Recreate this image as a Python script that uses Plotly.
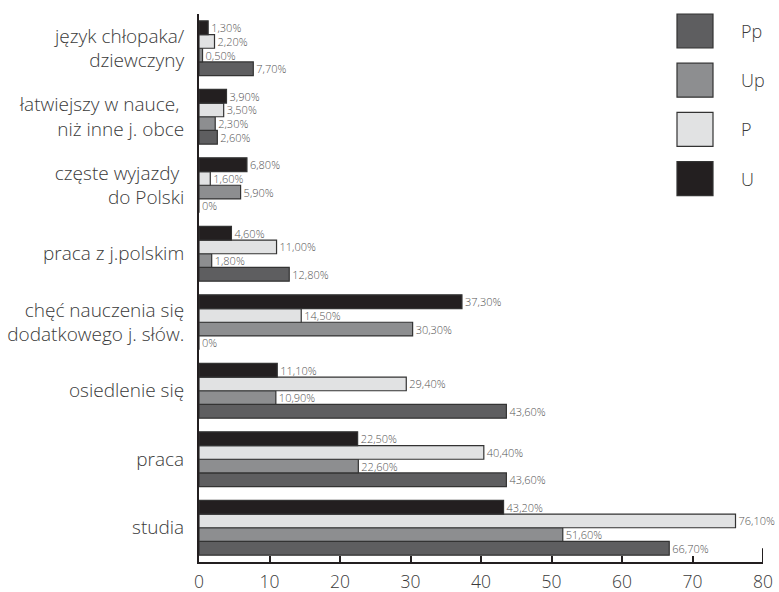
import plotly.graph_objects as go

# Reasons (bottom to top on the category axis)
categories = [
    "studia",
    "praca",
    "osiedlenie się",
    "chęć nauczenia się<br>dodatkowego j. słów.",
    "praca z j.polskim",
    "częste wyjazdy <br>do Polski",
    "łatwiejszy w nauce, <br>niż inne j. obce",
    "język chłopaka/<br>dziewczyny",
]

# Percent of answers per group
pp_values = [66.7, 43.6, 43.6, 0.0, 12.8, 0.0, 2.6, 7.7]
up_values = [51.6, 22.6, 10.9, 30.3, 1.8, 5.9, 2.3, 0.5]
p_values = [76.1, 40.4, 29.4, 14.5, 11.0, 1.6, 3.5, 2.2]
u_values = [43.2, 22.5, 11.1, 37.3, 4.6, 6.8, 3.9, 1.3]

series_names = ["Pp", "Up", "P", "U"]
series_values = [pp_values, up_values, p_values, u_values]
series_colors = ["#5e5e60", "#8d8e90", "#e1e2e3", "#231f20"]

x_ticks = [0, 10, 20, 30, 40, 50, 60, 70, 80]

FONT = "Open Sans"
TEXT = "#3a3a3a"


def pct_label(v):
    if v == 0:
        return "0%"
    return f"{v:.2f}%".replace(".", ",")


fig = go.Figure()
for name, vals, col in zip(series_names, series_values, series_colors):
    fig.add_trace(
        go.Bar(
            name=name,
            y=categories,
            x=vals,
            orientation="h",
            marker=dict(color=col, line=dict(color="#333333", width=1.2)),
            text=[pct_label(v) for v in vals],
            textposition="outside",
            constraintext="none",
            textfont=dict(family=FONT, size=11, color="#555555", weight=300),
            cliponaxis=False,
            showlegend=False,
        )
    )

fig.update_layout(
    width=779,
    height=592,
    margin=dict(l=199, r=16, t=14, b=30),
    paper_bgcolor="white",
    plot_bgcolor="white",
    barmode="group",
    bargap=0.2,
    bargroupgap=0,
    font=dict(family=FONT, color=TEXT),
)

fig.update_xaxes(
    range=[0, 80],
    tickvals=x_ticks,
    ticktext=[str(t) for t in x_ticks],
    showgrid=False,
    zeroline=False,
    showline=True,
    linecolor="#231f20",
    linewidth=2,
    ticks="inside",
    ticklen=6,
    tickwidth=2,
    tickcolor="#231f20",
    tickfont=dict(family=FONT, size=17.5, color=TEXT, weight=300),
    ticklabelstandoff=3,
    automargin=False,
)

fig.update_yaxes(
    categoryorder="array",
    categoryarray=categories,
    range=[-0.5, len(categories) - 0.5],
    showgrid=False,
    zeroline=False,
    showline=True,
    linecolor="#231f20",
    linewidth=2,
    ticks="",
    tickfont=dict(family=FONT, size=19, color=TEXT, weight=300),
    ticklabelstandoff=9,
    automargin=False,
)

# End cap on the value axis at 80
fig.add_shape(
    type="line", xref="x", yref="paper",
    x0=80, x1=80, y0=0, y1=0.025,
    line=dict(color="#231f20", width=2),
)

# Legend: large swatches stacked top-right
plot_w = 779 - 199 - 16
plot_h = 592 - 14 - 30
sw = 36 / plot_w
sh = 34 / plot_h
step = 49.2 / plot_h
x0 = (677 - 199) / plot_w
for i, (name, col) in enumerate(zip(series_names, series_colors)):
    top = 1.0 - i * step
    fig.add_shape(
        type="rect", xref="paper", yref="paper",
        x0=x0, x1=x0 + sw, y0=top - sh, y1=top,
        fillcolor=col, line=dict(color="#333333", width=1.2),
    )
    fig.add_annotation(
        xref="paper", yref="paper",
        x=(739 - 199) / plot_w, y=top - sh / 2,
        text=name, showarrow=False,
        xanchor="left", yanchor="middle",
        font=dict(family=FONT, size=18, color=TEXT, weight=300),
    )

fig.write_html("out.html")
